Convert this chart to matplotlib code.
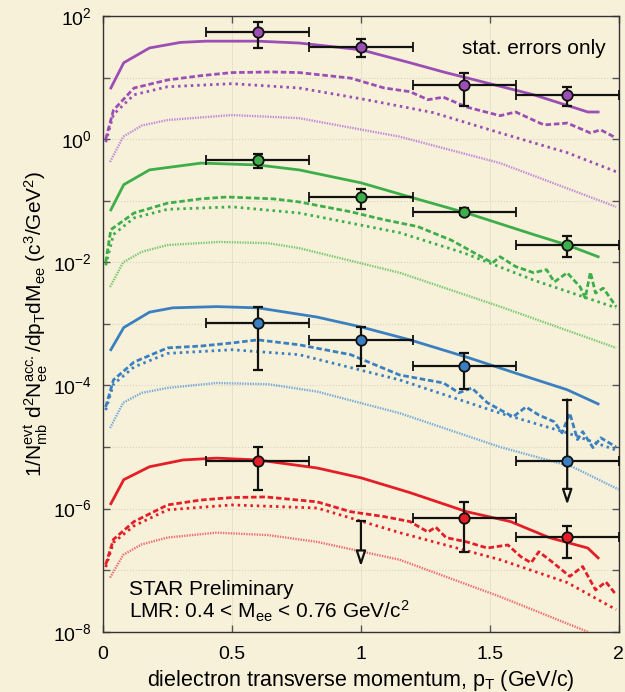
import matplotlib
matplotlib.use('Agg')
import matplotlib.pyplot as plt
import numpy as np

plt.rcParams['font.family'] = ['Liberation Sans', 'DejaVu Sans']
plt.rcParams['mathtext.default'] = 'regular'

# ---- data (log10 of yield) ----
# purple
pu_solid_x = [0.03, 0.08, 0.18, 0.3, 0.4, 0.6, 0.76, 1.0, 1.19, 1.32, 1.49, 1.67, 1.88, 1.92]
pu_solid_y = [0.83, 1.24, 1.48, 1.57, 1.59, 1.59, 1.56, 1.45, 1.24, 1.09, 0.91, 0.72, 0.44, 0.44]
pu_dash_x = [0.01, 0.04, 0.12, 0.25, 0.38, 0.5, 0.66, 0.76, 0.96, 1.09, 1.19, 1.26, 1.32, 1.41,
             1.54, 1.6, 1.71, 1.8, 1.89, 1.93, 1.98]
pu_dash_y = [0.0, 0.47, 0.83, 0.96, 1.03, 1.08, 1.09, 1.08, 0.99, 0.83, 0.77, 0.64, 0.68, 0.52,
             0.38, 0.44, 0.23, 0.26, 0.10, 0.15, 0.04]
pu_dot_x = [0.01, 0.04, 0.12, 0.25, 0.5, 0.76, 1.02, 1.28, 1.54, 1.8, 1.99]
pu_dot_y = [-0.05, 0.40, 0.72, 0.85, 0.90, 0.83, 0.64, 0.43, 0.10, -0.22, -0.53]
pu_thin_x = [0.027, 0.078, 0.15, 0.25, 0.5, 0.76, 1.15, 1.54, 1.99]
pu_thin_y = [-0.37, 0.04, 0.22, 0.31, 0.39, 0.34, 0.04, -0.39, -1.10]

# green
gr_solid_x = [0.03, 0.08, 0.18, 0.38, 0.6, 0.76, 1.0, 1.19, 1.41, 1.67, 1.8, 1.92]
gr_solid_y = [-1.15, -0.74, -0.5, -0.39, -0.42, -0.5, -0.71, -0.94, -1.2, -1.55, -1.72, -1.91]
gr_dash_x = [0.01, 0.03, 0.12, 0.25, 0.38, 0.48, 0.66, 0.76, 0.96, 1.09, 1.22, 1.32, 1.35, 1.51,
             1.54, 1.6, 1.67, 1.72, 1.75, 1.8, 1.85, 1.87, 1.89, 1.91, 1.94, 1.98, 1.99]
gr_dash_y = [-2.0, -1.47, -1.2, -1.04, -0.97, -0.94, -0.97, -1.02, -1.18, -1.31, -1.42, -1.59, -1.64,
             -2.01, -1.91, -2.07, -2.17, -2.12, -2.32, -2.17, -2.40, -2.58, -2.16, -2.5, -2.42, -2.66, -2.72]
gr_dot_x = [0.01, 0.04, 0.12, 0.25, 0.5, 0.76, 1.15, 1.4, 1.67, 1.99]
gr_dot_y = [-2.05, -1.55, -1.28, -1.14, -1.10, -1.2, -1.52, -1.85, -2.29, -2.74]
gr_thin_x = [0.027, 0.078, 0.15, 0.25, 0.45, 0.64, 0.76, 1.15, 1.54, 1.99]
gr_thin_y = [-2.40, -2.0, -1.83, -1.72, -1.67, -1.69, -1.77, -2.17, -2.72, -3.39]

# blue
bl_solid_x = [0.03, 0.08, 0.18, 0.27, 0.44, 0.6, 0.83, 1.0, 1.19, 1.41, 1.6, 1.8, 1.92]
bl_solid_y = [-3.42, -3.06, -2.81, -2.74, -2.72, -2.74, -2.89, -3.05, -3.26, -3.54, -3.80, -4.07, -4.30]
bl_dash_x = [0.01, 0.04, 0.12, 0.25, 0.38, 0.5, 0.6, 0.76, 0.96, 1.15, 1.32, 1.38, 1.43, 1.49, 1.59,
             1.64, 1.69, 1.75, 1.78, 1.81, 1.84, 1.86, 1.9, 1.93, 1.99]
bl_dash_y = [-4.35, -3.91, -3.62, -3.39, -3.36, -3.31, -3.26, -3.34, -3.50, -3.83, -3.96, -4.12, -4.04,
             -4.28, -4.51, -4.35, -4.48, -4.59, -4.77, -4.45, -4.88, -4.75, -5.01, -4.85, -5.0]
bl_dot_x = [0.01, 0.04, 0.12, 0.25, 0.5, 0.76, 1.15, 1.54, 1.8, 1.99]
bl_dot_y = [-4.4, -3.98, -3.7, -3.48, -3.42, -3.5, -3.91, -4.45, -4.77, -5.05]
bl_thin_x = [0.027, 0.078, 0.15, 0.25, 0.44, 0.64, 0.83, 1.15, 1.54, 1.82, 2.0]
bl_thin_y = [-4.69, -4.28, -4.12, -4.04, -3.96, -3.98, -4.10, -4.45, -5.0, -5.32, -5.69]

# red
rd_solid_x = [0.03, 0.08, 0.18, 0.31, 0.44, 0.6, 0.83, 1.0, 1.19, 1.41, 1.58, 1.73, 1.88, 1.92]
rd_solid_y = [-5.92, -5.53, -5.32, -5.21, -5.18, -5.21, -5.34, -5.5, -5.74, -6.05, -6.21, -6.47, -6.64, -6.80]
rd_dash_x = [0.01, 0.04, 0.12, 0.25, 0.38, 0.5, 0.63, 0.83, 0.96, 1.09, 1.19, 1.26, 1.29, 1.33, 1.41,
             1.49, 1.57, 1.62, 1.66, 1.69, 1.74, 1.81, 1.86, 1.91, 1.95, 1.99]
rd_dash_y = [-6.91, -6.5, -6.21, -5.94, -5.86, -5.82, -5.81, -5.89, -6.05, -6.13, -6.21, -6.38, -6.30,
             -6.47, -6.54, -6.64, -6.59, -6.78, -6.88, -6.70, -6.86, -7.10, -6.94, -7.32, -7.19, -7.40]
rd_dot_x = [0.01, 0.04, 0.12, 0.25, 0.5, 0.83, 1.15, 1.54, 1.8, 1.99]
rd_dot_y = [-6.95, -6.55, -6.28, -6.02, -5.94, -5.99, -6.39, -6.83, -7.20, -7.64]
rd_thin_x = [0.027, 0.078, 0.15, 0.25, 0.44, 0.64, 0.83, 1.15, 1.54, 1.88]
rd_thin_y = [-7.12, -6.75, -6.58, -6.47, -6.39, -6.43, -6.54, -6.83, -7.43, -8.0]

# measured points (value, upper, lower)
pt_x = [0.6, 1.0, 1.4, 1.8]
pt_xlo = [0.4, 0.8, 1.2, 1.6]
pt_xhi = [0.8, 1.2, 1.6, 2.0]
pu_pt = [55, 31.6, 7.6, 5.2]
pu_hi = [79, 42.7, 11.7, 7.1]
pu_lo = [30, 21.4, 3.5, 3.5]
gr_pt = [0.457, 0.115, 0.066, 0.019]
gr_hi = [0.575, 0.155, 0.075, 0.027]
gr_lo = [0.339, 0.074, 0.058, 0.0123]
bl_pt = [1.05e-3, 5.5e-4, 2.1e-4, 6e-6]
bl_hi = [1.9e-3, 8.9e-4, 3.4e-4, 5.9e-5]
bl_lo = [1.78e-4, 2.1e-4, 8.7e-5, 1.15e-6]   # last one: upper limit arrow
rd_pt = [6e-6, np.nan, 7.1e-7, 3.5e-7]
rd_hi = [1e-5, 6.2e-7, 1.26e-6, 5.2e-7]
rd_lo = [2.0e-6, 1.15e-7, 2.0e-7, 1.55e-7]  # second one: upper limit arrow
pu_lim = [False, False, False, False]
gr_lim = [False, False, False, False]
bl_lim = [False, False, False, True]
rd_lim = [False, True, False, False]

bg = '#f8f1da'

groups = [
    ('#9b4fb5', '#c28ad8', pu_solid_x, pu_solid_y, pu_dash_x, pu_dash_y, pu_dot_x, pu_dot_y, pu_thin_x, pu_thin_y,
     pu_pt, pu_hi, pu_lo, pu_lim),
    ('#3dae49', '#78c970', gr_solid_x, gr_solid_y, gr_dash_x, gr_dash_y, gr_dot_x, gr_dot_y, gr_thin_x, gr_thin_y,
     gr_pt, gr_hi, gr_lo, gr_lim),
    ('#3a80c1', '#75acdb', bl_solid_x, bl_solid_y, bl_dash_x, bl_dash_y, bl_dot_x, bl_dot_y, bl_thin_x, bl_thin_y,
     bl_pt, bl_hi, bl_lo, bl_lim),
    ('#e41e26', '#ee6f70', rd_solid_x, rd_solid_y, rd_dash_x, rd_dash_y, rd_dot_x, rd_dot_y, rd_thin_x, rd_thin_y,
     rd_pt, rd_hi, rd_lo, rd_lim),
]

fig = plt.figure(figsize=(6.25, 6.92), dpi=100, facecolor=bg)
ax = fig.add_axes([0.165, 0.087, 0.825, 0.89])
ax.set_facecolor(bg)

for (c, cl, sx, sy, dx, dy, ox, oy, tx, ty, p, hi, lo, lim) in groups:
    ax.plot(sx, 10 ** np.array(sy), color=c, lw=2.0, zorder=3)
    ax.plot(dx, 10 ** np.array(dy), color=c, lw=2.0, ls=(0, (2, 1)), zorder=3)
    ax.plot(ox, 10 ** np.array(oy), color=c, lw=2.0, ls=(0, (0.9, 1.4)), zorder=3)
    ax.plot(tx, 10 ** np.array(ty), color=cl, lw=1.7, ls=(0, (0.6, 0.5)), zorder=3)

    for i in range(len(pt_x)):
        x = pt_x[i]
        if lim[i]:
            ax.annotate('', xy=(x, lo[i]), xytext=(x, hi[i]),
                        arrowprops=dict(arrowstyle='-|>,head_length=0.9,head_width=0.3',
                                        fc=bg, ec='#111111', lw=1.6, shrinkA=0, shrinkB=0),
                        zorder=5)
            ax.plot([x], [hi[i]], marker='_', ms=7, mew=1.6, color='#111111', zorder=5)
        else:
            ax.errorbar(x, p[i], yerr=[[p[i] - lo[i]], [hi[i] - p[i]]], fmt='none',
                        ecolor='#111111', elinewidth=1.6, capsize=3.5, capthick=1.6, zorder=5)
        if not np.isnan(p[i]):
            ax.errorbar(x, p[i], xerr=[[x - pt_xlo[i]], [pt_xhi[i] - x]], fmt='o', color=c,
                        mec='#111111', mew=1.3, ms=7.5, ecolor='#111111', elinewidth=1.6,
                        capsize=3.5, capthick=1.6, zorder=6)

ax.set_yscale('log')
ax.set_xlim(0, 2)
ax.set_ylim(1e-8, 1e2)
ax.set_xticks([0, 0.5, 1, 1.5, 2])
ax.set_xticklabels(['0', '0.5', '1', '1.5', '2'])
ax.set_yticks([10.0 ** e for e in range(-8, 3, 2)])
ax.set_yticklabels(['$10^{%d}$' % e for e in range(-8, 3, 2)])
ax.set_yticks([10.0 ** e for e in range(-7, 2, 2)], minor=True)
ax.set_yticklabels([], minor=True)
ax.tick_params(which='both', direction='in', top=True, right=True, labelsize=14,
               length=5, width=1, color='#555555')
ax.tick_params(axis='x', pad=10)
ax.tick_params(axis='y', pad=8)
ax.grid(True, which='both', axis='y', ls=':', lw=0.8, color='#d8d2c0')
ax.grid(True, which='major', axis='x', ls='-', lw=0.6, color='#e4ddc8')
for s in ax.spines.values():
    s.set_color('#333333')
    s.set_linewidth(1.0)

ax.set_xlabel('dielectron transverse momentum, p$_T$ (GeV/c)', fontsize=15.5, labelpad=4)
ax.set_ylabel('1/N$_{mb}^{evt}$ d$^2$N$_{ee}^{acc.}$/dp$_T$dM$_{ee}$ (c$^3$/GeV$^2$)', fontsize=15,
              labelpad=2)

ax.text(0.975, 0.962, 'stat. errors only', transform=ax.transAxes, ha='right', va='top', fontsize=15)
ax.text(0.05, 0.053, 'STAR Preliminary', transform=ax.transAxes, ha='left', va='bottom', fontsize=15)
ax.text(0.05, 0.012, 'LMR: 0.4 < M$_{ee}$ < 0.76 GeV/c$^2$', transform=ax.transAxes,
        ha='left', va='bottom', fontsize=15)

fig.savefig('out.png', dpi=100, facecolor=bg)
